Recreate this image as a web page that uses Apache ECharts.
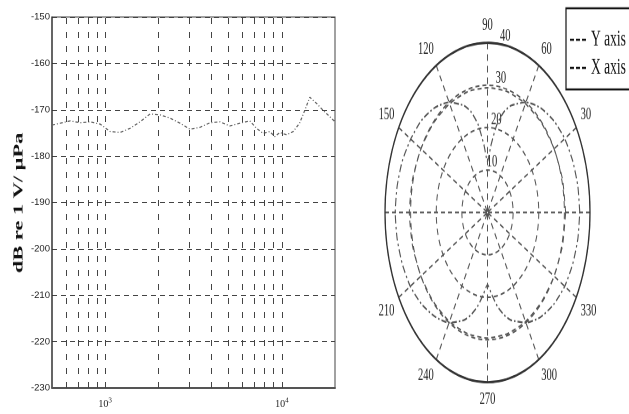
<!DOCTYPE html>
<html><head><meta charset="utf-8">
<script src="https://cdn.jsdelivr.net/npm/echarts@6/dist/echarts.min.js"></script>
<style>
html,body{margin:0;padding:0;background:#fff;width:629px;height:414px;overflow:hidden}
#a{position:absolute;left:0;top:0;width:629px;height:414px}
#b{position:absolute;left:0;top:0;width:629px;height:250px;transform:scaleY(1.656);transform-origin:0 0;pointer-events:none}
</style></head><body>
<div id="a"></div><div id="b"></div>
<script>
// ---- Left panel: sensitivity vs frequency ----
const freqHz = [500, 557, 634, 722, 823, 937, 1067, 1215, 1384, 1576, 1795, 2045, 2329, 2652, 3020, 3440, 3920, 4460, 5080, 5790, 6590, 7190, 7830, 8550, 9130, 9740, 10650, 11600, 12600, 13500, 14400, 15700, 17100, 18700, 20000];
const sensDb = [-173.3, -172.9, -172.4, -172.8, -172.6, -173.1, -174.7, -174.9, -174.0, -172.6, -170.9, -171.1, -171.8, -172.9, -174.2, -173.8, -172.8, -172.6, -173.5, -172.9, -172.4, -174.0, -175.1, -174.7, -175.8, -174.9, -175.4, -174.7, -172.9, -170.1, -167.3, -168.6, -170.1, -171.5, -172.6];
const freqGridLines = [600, 700, 800, 900, 1000, 2000, 3000, 4000, 5000, 6000, 7000, 8000, 9000, 10000];
const yAxisTitle = 'dB re 1 V/ µPa';

// ---- Right panel: directivity (polar, dB) ----
const yAxisAngles = [0, 15, 30, 45, 60, 75, 90, 105, 120, 135, 150, 165, 180, 195, 210, 225, 240, 255, 270, 285, 300, 315, 330, 345, 360];
const yAxisLevel = [30.5, 30.3, 30.0, 29.8, 29.6, 29.5, 29.4, 29.5, 29.6, 29.8, 30.0, 30.3, 30.5, 30.3, 30.0, 29.8, 29.7, 29.6, 29.6, 29.6, 29.7, 29.8, 30.0, 30.3, 30.5];
const xAxisAngles = [0, 10, 20, 30, 40, 50, 60, 70, 75, 80, 85, 90, 95, 100, 105, 110, 120, 130, 140, 150, 160, 170, 180, 190, 200, 210, 220, 230, 240, 250, 255, 260, 265, 270, 275, 280, 285, 290, 300, 310, 320, 330, 340, 350, 360];
const xAxisLevel = [36, 35.8, 35.4, 34.8, 33.7, 32.2, 30, 26.8, 24.5, 21, 16, 12, 16, 21, 24.5, 26.8, 30, 32.2, 33.7, 34.6, 35.4, 35.8, 36, 35.8, 35.4, 34.8, 33.6, 32, 30, 27, 25, 22.5, 19.5, 17, 19.5, 22.5, 25, 27, 30, 32.2, 33.7, 34.8, 35.4, 35.8, 36];
const seriesNames = ['Y axis', 'X axis'];

const serif = '"Liberation Serif", "DejaVu Serif", serif';

const chartA = echarts.init(document.getElementById('a'), null, {renderer: 'canvas', devicePixelRatio: 2});
chartA.setOption({
  animation: false,
  backgroundColor: '#fff',
  grid: {left: 52, top: 17, width: 283, height: 371, show: true, borderColor: '#444', borderWidth: 1},
  xAxis: {
    type: 'log', logBase: 10, min: 500, max: 20000,
    axisLine: {show: true, onZero: false, lineStyle: {color: '#555', width: 2}},
    axisTick: {show: false},
    splitLine: {show: false},
    minorTick: {show: false},
    axisLabel: {
      margin: 9,
      formatter: function (v) {
        const e = Math.log10(v);
        if (Math.abs(e - Math.round(e)) > 1e-6) return '';
        return '{b|10}{s|' + Math.round(e) + '}';
      },
      rich: {
        b: {fontFamily: serif, fontSize: 10, color: '#222'},
        s: {fontFamily: serif, fontSize: 7, color: '#222', padding: [0, 0, 8, 0]}
      }
    }
  },
  yAxis: {
    type: 'value', min: -230, max: -150, interval: 10,
    axisLine: {show: true, lineStyle: {color: '#333', width: 1.5}},
    axisTick: {show: false},
    axisLabel: {fontSize: 9.5, margin: 2, color: '#222', fontFamily: '"Liberation Sans", Arial, sans-serif'},
    splitLine: {show: true, lineStyle: {type: [5, 4], color: '#444', width: 1}}
  },
  series: [{
    type: 'line',
    data: freqHz.map((f, i) => [f, sensDb[i]]),
    symbol: 'none',
    lineStyle: {color: '#666', width: 1.2, type: [3, 2, 1, 2]},
    markLine: {
      silent: true, symbol: 'none', animation: false,
      label: {show: false},
      lineStyle: {type: [6, 8], color: '#444', width: 1},
      data: freqGridLines.map(f => ({xAxis: f}))
    }
  }]
});

const chartB = echarts.init(document.getElementById('b'), null, {renderer: 'canvas', devicePixelRatio: 2});
const dashIcon = 'path://M0 0h4v1.2H0z M6 0h4v1.2H6z M12 0h4v1.2h-4z';
chartB.setOption({
  animation: false,
  color: ['#333', '#333'],
  legend: {
    data: [{name: seriesNames[0], icon: dashIcon}, {name: seriesNames[1], icon: dashIcon}],
    orient: 'vertical', left: 566, top: 5,
    itemWidth: 16, itemHeight: 8, itemGap: 3,
    padding: [12, 30, 6, 4],
    borderColor: '#111', borderWidth: 1.2,
    itemStyle: {color: '#111'},
    textStyle: {fontFamily: serif, fontSize: 13.5, color: '#111'}
  },
  polar: [
    {center: [487.5, 128.3], radius: 102.5},
    {center: [487.5, 128.3], radius: 102.5}
  ],
  angleAxis: [
    {
      polarIndex: 0, type: 'value', min: 0, max: 360, interval: 30,
      startAngle: 0, clockwise: false,
      axisLine: {show: true, lineStyle: {color: '#333', width: 1.3}},
      axisTick: {show: false},
      axisLabel: {
        margin: 5, fontSize: 10.5, fontFamily: serif, color: '#222',
        formatter: v => (v % 180 === 0 ? '' : String(v))
      },
      splitLine: {show: true, lineStyle: {type: [4, 3], color: '#555', width: 1}}
    },
    {polarIndex: 1, type: 'value', min: 0, max: 360, startAngle: 80, clockwise: false, show: false}
  ],
  radiusAxis: [
    {
      polarIndex: 0, type: 'value', min: 0, max: 40, interval: 10,
      axisLine: {show: false}, axisTick: {show: false}, axisLabel: {show: false},
      splitLine: {show: true, lineStyle: {type: [4, 3], color: '#555', width: 1}}
    },
    {
      polarIndex: 1, type: 'value', min: 0, max: 40, interval: 10,
      axisLine: {show: false}, axisTick: {show: false}, splitLine: {show: false},
      axisLabel: {
        margin: 0, align: 'center', verticalAlign: 'bottom',
        fontSize: 10.5, fontFamily: serif, color: '#222',
        formatter: v => (v === 0 ? '' : String(v))
      }
    }
  ],
  series: [
    {
      name: seriesNames[0], type: 'line', coordinateSystem: 'polar', polarIndex: 0,
      data: yAxisAngles.map((a, i) => [yAxisLevel[i], a]),
      symbol: 'none', smooth: 0.2,
      itemStyle: {color: '#333'},
      lineStyle: {color: '#555', width: 1, type: [4, 3]}
    },
    {
      name: seriesNames[1], type: 'line', coordinateSystem: 'polar', polarIndex: 0,
      data: xAxisAngles.map((a, i) => [xAxisLevel[i], a]),
      symbol: 'none', smooth: 0.2,
      itemStyle: {color: '#333'},
      lineStyle: {color: '#555', width: 1.1, type: [5, 2, 1.5, 2]}
    }
  ],
  graphic: [{
    type: 'text', x: 19, y: 122.5, rotation: Math.PI / 2,
    style: {text: yAxisTitle, font: 'bold 13.5px ' + serif, align: 'center', verticalAlign: 'middle', fill: '#111'}
  }]
});
</script></body></html>
